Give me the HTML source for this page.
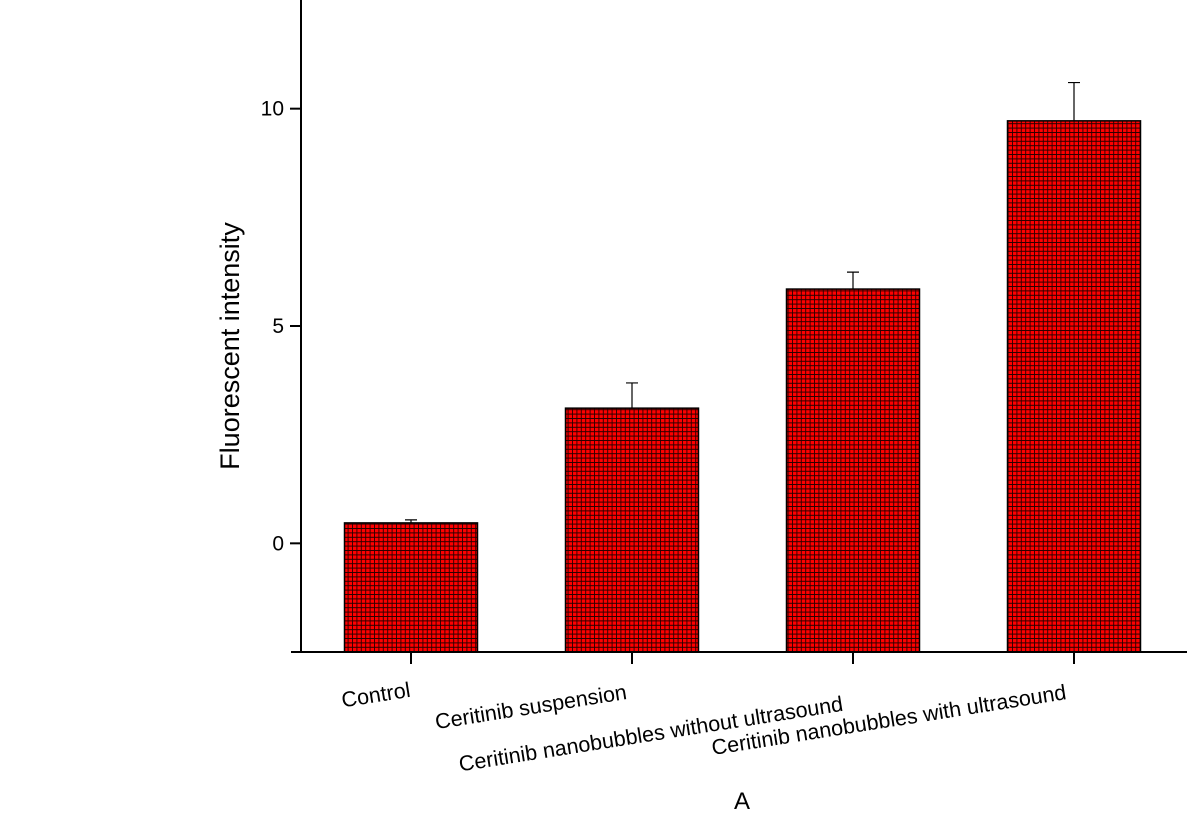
<!DOCTYPE html>
<html><head><meta charset="utf-8"><style>body{margin:0;background:#fff}svg{display:block}</style></head>
<body>
<svg width="1187" height="815" viewBox="0 0 1187 815" xmlns="http://www.w3.org/2000/svg" font-family="Liberation Sans, Arial, sans-serif">
<defs>
<pattern id="grid" width="4.4" height="4.4" patternUnits="userSpaceOnUse">
<rect width="4.4" height="4.4" fill="#ff0000"/>
<path d="M0 0.5H4.4M0.5 0V4.4" stroke="#2a0000" stroke-width="0.9"/>
</pattern>
</defs>
<g id="plot"></g>
<text transform="translate(239,346) rotate(-90)" text-anchor="middle" font-size="27">Fluorescent intensity</text>
<text x="742" y="809" text-anchor="middle" font-size="24">A</text>
</svg>
<script>
const categories=["Control","Ceritinib suspension","Ceritinib nanobubbles without ultrasound","Ceritinib nanobubbles with ultrasound"];
const values=[0.47,3.11,5.85,9.72];
const errors=[0.07,0.58,0.39,0.88];
const yTicks=[0,5,10];
const NS="http://www.w3.org/2000/svg";
const g=document.getElementById('plot');
const yMin=-2.5,yMax=12.5,top0=0,bot=652,axX=301;
const y=v=>bot-(v-yMin)/(yMax-yMin)*(bot-top0);
const cx=i=>411+i*221;
const bw=133;
function mk(t,a){const e=document.createElementNS(NS,t);for(const k in a)e.setAttribute(k,a[k]);g.appendChild(e);return e;}
categories.forEach((c,i)=>{
 const r=mk('rect',{x:cx(i)-bw/2,y:y(values[i]),width:bw,height:bot-y(values[i]),fill:'url(#grid)',stroke:'#000','stroke-width':1.5});
 
 
 const e=mk('path',{d:`M${cx(i)} ${y(values[i])}V${y(values[i]+errors[i])}M${cx(i)-6} ${y(values[i]+errors[i])}H${cx(i)+6}`,stroke:'#000','stroke-width':1.2,fill:'none'});
 
 
 mk('line',{x1:cx(i),x2:cx(i),y1:bot,y2:bot+12,stroke:'#000','stroke-width':2});
 const lx=[377,532,652,890][i],ly=[702,714,741,727][i];
 const t=mk('text',{x:lx,y:ly,'text-anchor':'middle','font-size':21.5,transform:`rotate(-9 ${lx} ${ly})`});
 t.textContent=c;
 
 
});
const ax=mk('path',{d:`M${axX} 0V${bot}H1187`,stroke:'#000','stroke-width':2,fill:'none'});


mk('line',{x1:axX-10,x2:axX,y1:bot,y2:bot,stroke:'#000','stroke-width':2});
yTicks.forEach(v=>{
 mk('line',{x1:axX-11,x2:axX,y1:y(v),y2:y(v),stroke:'#000','stroke-width':2});
 const t=mk('text',{x:axX-17,y:y(v)+7,'text-anchor':'end','font-size':21});
 t.textContent=v;
 
 
});
</script>
</body></html>
